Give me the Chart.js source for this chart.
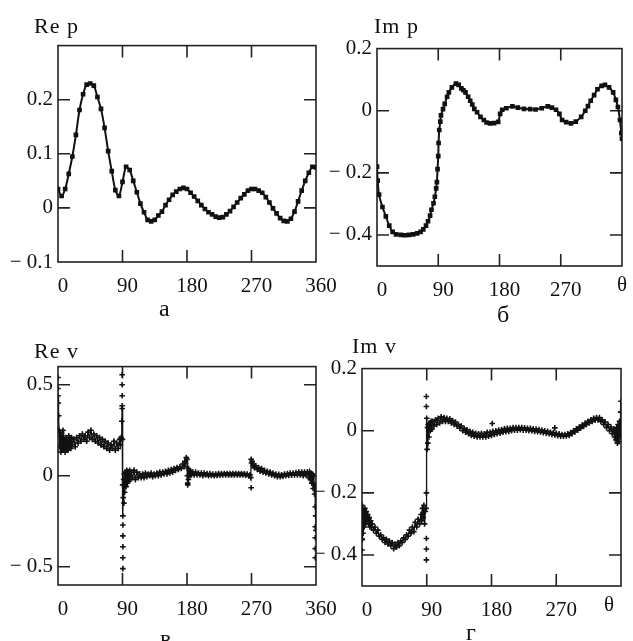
<!DOCTYPE html>
<html>
<head>
<meta charset="utf-8">
<script src="https://cdn.jsdelivr.net/npm/chart.js@4.4.1/dist/chart.umd.min.js"></script>
<style>
html,body{margin:0;padding:0;background:#fff;overflow:hidden;width:633px;height:641px}
canvas{position:absolute}
.lbl{position:absolute;font-family:"Liberation Serif","Times New Roman",serif;font-size:21px;line-height:1;color:#111;white-space:nowrap}
.ttl{font-size:22px;letter-spacing:1px}
.sub{font-size:24px}
</style>
</head>
<body>
<canvas id="reP" width="350" height="274" style="left:0;top:28px"></canvas>
<canvas id="imP" width="317" height="275" style="left:317px;top:31px"></canvas>
<canvas id="reV" width="350" height="276" style="left:0;top:349px"></canvas>
<canvas id="imV" width="333" height="275" style="left:300px;top:351px"></canvas>

<div class="lbl ttl" style="left:34px;top:15px">Re p</div>
<div class="lbl ttl" style="left:374px;top:15px">Im p</div>
<div class="lbl ttl" style="left:34px;top:340px">Re v</div>
<div class="lbl ttl" style="left:352px;top:335px">Im v</div>
<div class="lbl" style="left:617px;top:274px">θ</div>
<div class="lbl" style="left:604px;top:594px">θ</div>
<div class="lbl sub" style="left:159px;top:296px">а</div>
<div class="lbl sub" style="left:497px;top:302px">б</div>
<div class="lbl sub" style="left:160px;top:626px">в</div>
<div class="lbl sub" style="left:466px;top:620px">г</div>

<script>
// tick values
const thetaTicks = [0, 90, 180, 270, 360]
const reP_ticks = [-0.1, 0, 0.1, 0.2, 0.3]
const imP_ticks = [-0.5, -0.4, -0.2, 0, 0.2]
const reV_ticks = [-0.6, -0.5, 0, 0.5, 0.6]
const imV_ticks = [-0.5, -0.4, -0.2, 0, 0.2]

/* а : Re p */
const reP_theta = [0,5,10,15,20,25,30,35,40,45,50,55,60,65,70,75,80,85,90,95,100,105,110,115,120,125,130,135,140,145,150,155,160,165,170,175,180,185,190,195,200,205,210,215,220,225,230,235,240,245,250,255,260,265,270,275,280,285,290,295,300,305,310,315,320,325,330,335,340,345,350,355,360]
const reP = [0.035,0.022,0.035,0.063,0.095,0.135,0.181,0.21,0.228,0.23,0.226,0.205,0.183,0.148,0.105,0.068,0.033,0.022,0.048,0.076,0.07,0.05,0.029,0.008,-0.008,-0.022,-0.025,-0.022,-0.014,-0.007,0.005,0.015,0.024,0.03,0.035,0.037,0.035,0.028,0.021,0.013,0.005,-0.002,-0.008,-0.012,-0.016,-0.018,-0.017,-0.012,-0.006,0.002,0.01,0.018,0.025,0.032,0.035,0.035,0.032,0.028,0.02,0.01,-0.001,-0.01,-0.019,-0.024,-0.025,-0.02,-0.007,0.012,0.032,0.05,0.065,0.076,0.075]

/* б : Im p */
const imP_theta = [0,1,3,8,13,18,23,28,35,41,47,53,59,64,68,72,75,78,80,83,85,87,88,89,90,90.5,91.5,93,94,97,99.5,103,105.6,110,116,120,124,127,130,134,137,140,143,147,152,157,161,166,172,178,181,184,190,199,207,216,225,233,242,251,257,263,268,272,278,285,292,300,306,310,314,319,324,330,335,341,347,351,354,357,359,360]
const imP = [-0.18,-0.225,-0.27,-0.31,-0.34,-0.37,-0.39,-0.398,-0.4,-0.401,-0.4,-0.398,-0.395,-0.39,-0.382,-0.37,-0.356,-0.338,-0.319,-0.298,-0.277,-0.25,-0.23,-0.188,-0.146,-0.104,-0.062,-0.035,-0.015,0.005,0.022,0.045,0.059,0.075,0.087,0.083,0.072,0.066,0.059,0.045,0.032,0.02,0.006,-0.005,-0.02,-0.03,-0.038,-0.041,-0.04,-0.036,-0.01,0.003,0.008,0.014,0.01,0.006,0.005,0.004,0.008,0.014,0.01,0.003,-0.01,-0.03,-0.037,-0.041,-0.035,-0.02,0,0.015,0.032,0.05,0.069,0.08,0.083,0.075,0.059,0.035,0.012,-0.03,-0.072,-0.09]

/* в : Re v */
const reV_theta = [0,0.5,1,1.5,2,3,4,5,6,7,8,9,10,11,12,13,14,15,16,17,18,19,20,22,24,26,28,30,32,34,36,38,40,42,44,46,48,50,52,54,56,58,60,62,64,66,68,70,72,74,76,78,80,82,84,86,87,88,89,89.5,90,90.2,90.5,91,91.5,92,92.5,93,94,95,96,97,98,99,100,101,102,104,106,108,110,112,114,116,118,120,122,124,126,128,130,132,134,136,138,140,142,144,146,148,150,152,154,156,158,160,162,164,166,168,170,172,174,176,177,178,179,180,180.5,181,181.5,182,183,184,185,186,188,190,192,194,196,198,200,202,204,206,208,210,212,214,216,218,220,222,224,226,228,230,232,234,236,238,240,242,244,246,248,250,252,254,256,258,260,262,264,266,268,269,269.5,270,271,272,273,274,276,278,280,282,284,286,288,290,292,294,296,298,300,302,304,306,308,310,312,314,316,318,320,322,324,326,328,330,332,334,336,338,340,342,344,346,348,350,351,352,353,354,355,356,357,358,358.5,359,359.5,360]
const reV = [0.44,0.4,0.33,0.25,0.16,0.24,0.13,0.22,0.14,0.25,0.15,0.2,0.13,0.21,0.15,0.19,0.14,0.22,0.16,0.2,0.15,0.21,0.17,0.2,0.16,0.21,0.18,0.22,0.19,0.23,0.2,0.22,0.19,0.24,0.21,0.25,0.2,0.23,0.19,0.22,0.18,0.21,0.17,0.2,0.16,0.19,0.15,0.18,0.14,0.17,0.15,0.19,0.14,0.18,0.15,0.2,0.17,0.21,0.3,0.37,0.2,-0.05,-0.22,-0.12,-0.02,-0.15,0.01,-0.09,0.02,-0.06,0.03,-0.04,0.02,-0.03,0.03,-0.02,0.02,-0.01,0.03,-0.02,0.02,-0.01,0.01,-0.01,0.01,-0.01,0.015,-0.005,0.01,0,0.015,-0.005,0.01,0,0.015,0,0.02,0.005,0.02,0.01,0.025,0.01,0.03,0.015,0.035,0.02,0.04,0.03,0.045,0.035,0.05,0.04,0.065,0.05,0.08,0.07,0.1,0.09,0,-0.04,0.04,-0.02,0.03,0,0.025,0.005,0.02,0.005,0.02,0.005,0.015,0.005,0.015,0,0.015,0.005,0.012,0,0.012,0.002,0.01,0,0.01,0.002,0.012,0.003,0.012,0.004,0.013,0.005,0.013,0.005,0.012,0.004,0.012,0.005,0.013,0.004,0.012,0.005,0.012,0.004,0.011,0.003,0.01,0,0.005,-0.01,0.09,0.07,0.08,0.055,0.065,0.045,0.055,0.035,0.045,0.025,0.04,0.02,0.03,0.015,0.025,0.01,0.02,0.005,0.015,0,0.01,-0.005,0.008,-0.005,0.005,-0.003,0.01,0,0.012,0.002,0.015,0.003,0.015,0.005,0.018,0.005,0.02,0.005,0.02,0,0.02,0.005,0.022,-0.01,0.02,-0.02,0.015,-0.04,0.01,-0.07,0,-0.1,-0.05,-0.17,-0.22,-0.3]
const reV_outTheta = [0,0,89.5,89.5,89.5,89.5,90.5,90.5,90.5,90.5,90.5,181,269.5,359,359,359,359]
const reV_out = [0.54,0.48,0.555,0.5,0.44,0.385,-0.27,-0.33,-0.39,-0.45,-0.51,-0.05,-0.066,-0.28,-0.34,-0.4,-0.45]

/* г : Im v */
const imV_theta = [0,0.5,1,1.5,2,3,4,5,6,7,8,9,10,11,12,13,14,16,18,20,22,24,26,28,30,32,34,36,38,40,42,44,46,48,50,52,54,56,58,60,62,64,66,68,70,72,74,76,78,80,82,83,84,85,86,87,88,89,89.5,90,90.5,91,91.5,92,93,94,95,96,97,98,100,102,104,106,108,110,112,114,116,118,120,122,124,126,128,130,132,134,136,138,140,142,144,146,148,150,152,154,156,158,160,162,164,166,168,170,172,174,176,178,180,182,184,186,188,190,192,194,196,198,200,202,204,206,208,210,212,214,216,218,220,222,224,226,228,230,232,234,236,238,240,242,244,246,248,250,252,254,256,258,260,262,264,266,268,270,272,274,276,278,280,282,284,286,288,290,292,294,296,298,300,302,304,306,308,310,312,314,316,318,320,322,324,326,328,330,332,334,336,338,340,342,344,346,348,350,351,352,353,354,355,356,357,358,359,359.5,360]
const imV = [-0.24,-0.35,-0.25,-0.33,-0.26,-0.31,-0.25,-0.3,-0.26,-0.29,-0.27,-0.3,-0.28,-0.31,-0.29,-0.31,-0.3,-0.32,-0.31,-0.33,-0.32,-0.34,-0.335,-0.35,-0.345,-0.36,-0.35,-0.365,-0.355,-0.37,-0.36,-0.38,-0.365,-0.375,-0.36,-0.37,-0.355,-0.36,-0.345,-0.35,-0.335,-0.34,-0.32,-0.33,-0.31,-0.325,-0.295,-0.31,-0.285,-0.3,-0.27,-0.29,-0.25,-0.28,-0.24,-0.3,-0.26,-0.25,-0.2,0.04,-0.06,0.01,-0.04,0.02,-0.02,0.025,0,0.03,0.005,0.03,0.015,0.035,0.02,0.04,0.025,0.045,0.03,0.042,0.03,0.04,0.03,0.038,0.025,0.033,0.02,0.028,0.015,0.02,0.008,0.015,0,0.008,-0.005,0.003,-0.01,-0.002,-0.015,-0.005,-0.018,-0.008,-0.02,-0.01,-0.02,-0.008,-0.02,-0.01,-0.02,-0.005,-0.018,-0.005,-0.015,-0.002,-0.012,0,-0.01,0.002,-0.008,0.004,-0.005,0.006,-0.003,0.008,-0.002,0.008,0,0.01,0.002,0.01,0.002,0.01,0.003,0.01,0.002,0.009,0.002,0.008,0,0.008,0,0.006,-0.002,0.005,-0.003,0.004,-0.004,0.002,-0.006,0,-0.008,-0.002,-0.01,-0.005,-0.012,-0.006,-0.014,-0.008,-0.016,-0.01,-0.018,-0.012,-0.018,-0.012,-0.017,-0.01,-0.015,-0.006,-0.01,0,-0.004,0.006,0.002,0.012,0.008,0.018,0.014,0.024,0.02,0.03,0.025,0.035,0.03,0.04,0.034,0.042,0.035,0.042,0.03,0.035,0.02,0.028,0.01,0.02,0,0.012,-0.01,0.005,-0.02,0,-0.03,0.01,-0.04,0.02,-0.035,0.03,-0.02,0.06,0.095]
const imV_outTheta = [0,0,89.5,89.5,89.5,89.5,89.5,181,268]
const imV_out = [-0.35,-0.384,0.11,0.078,-0.347,-0.381,-0.416,0.023,0.009]


const ink = '#111'
const serif = '"Liberation Serif", "Times New Roman", serif'

// box with inward ticks on all four sides, like the original plots
const frame = {
  id: 'frame',
  beforeDatasetsDraw(chart) {
    const {ctx, chartArea: a, scales} = chart
    ctx.save()
    ctx.strokeStyle = '#222'
    ctx.lineWidth = 1.6
    ctx.strokeRect(a.left, a.top, a.right - a.left, a.bottom - a.top)
    ctx.beginPath()
    scales.x.ticks.forEach(t => {
      let px = scales.x.getPixelForValue(t.value)
      if (px <= a.left + 1 || px >= a.right - 1) return
      ctx.moveTo(px, a.top); ctx.lineTo(px, a.top + 12)
      ctx.moveTo(px, a.bottom); ctx.lineTo(px, a.bottom - 12)
    })
    scales.y.ticks.forEach(t => {
      let py = scales.y.getPixelForValue(t.value)
      if (py <= a.top + 1 || py >= a.bottom - 1) return
      ctx.moveTo(a.left, py); ctx.lineTo(a.left + 12, py)
      ctx.moveTo(a.right, py); ctx.lineTo(a.right - 12, py)
    })
    ctx.stroke()
    ctx.restore()
  }
}

function pts(xs, ys) {
  return xs.map((x, i) => ({x: x, y: ys[i]}))
}

function fmtY(v) {
  let s = String(Math.round(Math.abs(v) * 10) / 10)
  return v < 0 ? '\u2212 ' + s : s
}

function makePanel(id, o) {
  new Chart(document.getElementById(id), {
    type: 'scatter',
    data: {datasets: o.datasets},
    options: {
      responsive: false,
      animation: false,
      layout: {padding: {top: 14, right: o.padRight, left: 0, bottom: 0}},
      plugins: {legend: {display: false}, tooltip: {enabled: false}},
      scales: {
        x: {
          type: 'linear', min: 0, max: 360,
          afterFit: s => { s.height = 40 },
          afterBuildTicks: s => { s.ticks = thetaTicks.map(v => ({value: v})) },
          grid: {display: false, drawTicks: false},
          border: {display: false},
          ticks: {
            color: ink, font: {family: serif, size: 21}, padding: 12, labelOffset: 5,
            maxRotation: 0, autoSkip: false,
            callback: v => (v === 360 && o.theta) ? '' : String(v)
          }
        },
        y: {
          min: o.yTicks[0], max: o.yTicks[o.yTicks.length - 1],
          afterFit: s => { s.width = o.yWidth },
          afterBuildTicks: s => { s.ticks = o.yTicks.map(v => ({value: v})) },
          grid: {display: false, drawTicks: false},
          border: {display: false},
          ticks: {
            color: ink, font: {family: serif, size: 21}, padding: 5, autoSkip: false,
            callback: v => o.hide.includes(v) ? '' : fmtY(v)
          }
        }
      }
    },
    plugins: [frame]
  })
}

const lineSet = (data) => ({
  data: data, showLine: true, borderColor: '#111', borderWidth: 2,
  pointStyle: 'rect', pointRadius: 3.3, pointBackgroundColor: '#111', pointBorderColor: '#111',
  pointBorderWidth: 0, tension: 0.3
})
const crossSet = (data, line) => ({
  data: data, showLine: line, borderColor: '#111', borderWidth: 1.3, tension: 0,
  pointStyle: 'cross', pointRadius: 2.8, pointBorderColor: '#111', pointBorderWidth: 1.6
})

makePanel('reP', {yTicks: reP_ticks, hide: [0.3], yWidth: 58, padRight: 34, theta: false,
  datasets: [lineSet(pts(reP_theta, reP))]})
makePanel('imP', {yTicks: imP_ticks, hide: [-0.5], yWidth: 60, padRight: 0, theta: true,
  datasets: [lineSet(pts(imP_theta, imP))]})
makePanel('reV', {yTicks: reV_ticks, hide: [-0.6, 0.6], yWidth: 58, padRight: 34, theta: false,
  datasets: [crossSet(pts(reV_theta, reV), true), crossSet(pts(reV_outTheta, reV_out), false)]})
makePanel('imV', {yTicks: imV_ticks, hide: [-0.5], yWidth: 62, padRight: 12, theta: true,
  datasets: [crossSet(pts(imV_theta, imV), true), crossSet(pts(imV_outTheta, imV_out), false)]})
</script>
</body>
</html>
